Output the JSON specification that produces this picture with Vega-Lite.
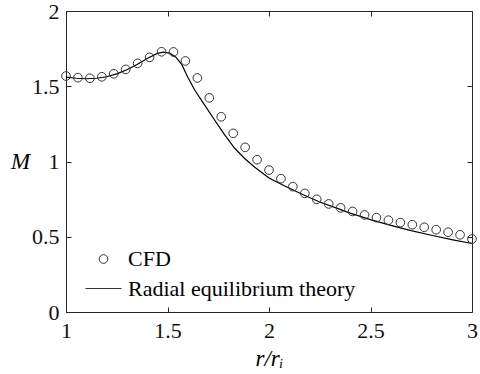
{
  "$schema": "https://vega.github.io/schema/vega-lite/v6.json",
  "width": 406,
  "height": 301,
  "autosize": {"type": "none"},
  "padding": {"left": 66, "top": 11, "right": 8, "bottom": 62},
  "title": {"text": "(b)", "anchor": "start", "frame": "group", "dx": -59, "offset": 8, "baseline": "alphabetic", "font": "Liberation Serif", "fontSize": 22, "fontWeight": "normal", "color": "#000"},
  "datasets": {
    "cfd": [
      {"x": 1.0, "M": 1.568, "series": "CFD"},
      {"x": 1.0588, "M": 1.557, "series": "CFD"},
      {"x": 1.1176, "M": 1.553, "series": "CFD"},
      {"x": 1.1765, "M": 1.563, "series": "CFD"},
      {"x": 1.2353, "M": 1.583, "series": "CFD"},
      {"x": 1.2941, "M": 1.612, "series": "CFD"},
      {"x": 1.3529, "M": 1.652, "series": "CFD"},
      {"x": 1.4118, "M": 1.692, "series": "CFD"},
      {"x": 1.4706, "M": 1.729, "series": "CFD"},
      {"x": 1.5294, "M": 1.728, "series": "CFD"},
      {"x": 1.5882, "M": 1.668, "series": "CFD"},
      {"x": 1.6471, "M": 1.555, "series": "CFD"},
      {"x": 1.7059, "M": 1.423, "series": "CFD"},
      {"x": 1.7647, "M": 1.297, "series": "CFD"},
      {"x": 1.8235, "M": 1.187, "series": "CFD"},
      {"x": 1.8824, "M": 1.094, "series": "CFD"},
      {"x": 1.9412, "M": 1.012, "series": "CFD"},
      {"x": 2.0, "M": 0.943, "series": "CFD"},
      {"x": 2.0588, "M": 0.886, "series": "CFD"},
      {"x": 2.1176, "M": 0.833, "series": "CFD"},
      {"x": 2.1765, "M": 0.788, "series": "CFD"},
      {"x": 2.2353, "M": 0.749, "series": "CFD"},
      {"x": 2.2941, "M": 0.718, "series": "CFD"},
      {"x": 2.3529, "M": 0.692, "series": "CFD"},
      {"x": 2.4118, "M": 0.668, "series": "CFD"},
      {"x": 2.4706, "M": 0.645, "series": "CFD"},
      {"x": 2.5294, "M": 0.627, "series": "CFD"},
      {"x": 2.5882, "M": 0.61, "series": "CFD"},
      {"x": 2.6471, "M": 0.594, "series": "CFD"},
      {"x": 2.7059, "M": 0.58, "series": "CFD"},
      {"x": 2.7647, "M": 0.563, "series": "CFD"},
      {"x": 2.8235, "M": 0.547, "series": "CFD"},
      {"x": 2.8824, "M": 0.53, "series": "CFD"},
      {"x": 2.9412, "M": 0.513, "series": "CFD"},
      {"x": 3.0, "M": 0.485, "series": "CFD"}
    ],
    "ret": [
      {"x": 1.0, "M": 1.56},
      {"x": 1.05, "M": 1.553},
      {"x": 1.1, "M": 1.55},
      {"x": 1.15, "M": 1.553},
      {"x": 1.2, "M": 1.563},
      {"x": 1.25, "M": 1.582},
      {"x": 1.3, "M": 1.61},
      {"x": 1.35, "M": 1.645},
      {"x": 1.4, "M": 1.685},
      {"x": 1.45, "M": 1.718},
      {"x": 1.48, "M": 1.727},
      {"x": 1.51, "M": 1.72},
      {"x": 1.54, "M": 1.695},
      {"x": 1.57, "M": 1.645},
      {"x": 1.6, "M": 1.56},
      {"x": 1.634, "M": 1.475},
      {"x": 1.683, "M": 1.375},
      {"x": 1.732, "M": 1.276},
      {"x": 1.78, "M": 1.18},
      {"x": 1.831, "M": 1.088},
      {"x": 1.88, "M": 1.02},
      {"x": 1.93, "M": 0.962},
      {"x": 2.0, "M": 0.89},
      {"x": 2.08, "M": 0.835},
      {"x": 2.166, "M": 0.781},
      {"x": 2.25, "M": 0.731},
      {"x": 2.33, "M": 0.692},
      {"x": 2.4, "M": 0.657},
      {"x": 2.5, "M": 0.614},
      {"x": 2.6, "M": 0.576},
      {"x": 2.7, "M": 0.541},
      {"x": 2.8, "M": 0.51},
      {"x": 2.9, "M": 0.481},
      {"x": 3.0, "M": 0.455}
    ]
  },
  "config": {
    "font": "Liberation Serif",
    "view": {"stroke": null},
    "axis": {
      "grid": false,
      "domainColor": "#262626",
      "tickColor": "#262626",
      "labelColor": "#111",
      "labelFont": "Liberation Serif",
      "labelFontSize": 22,
      "tickSize": -5,
      "domainWidth": 1,
      "tickWidth": 1
    }
  },
  "layer": [
    {
      "data": {"name": "ret"},
      "mark": {"type": "line", "color": "black", "strokeWidth": 1.2},
      "encoding": {
        "x": {"field": "x", "type": "quantitative", "scale": {"domain": [1, 3], "nice": false, "zero": false},
          "axis": {"orient": "bottom", "values": [1, 1.5, 2, 2.5, 3], "format": "~g", "labelPadding": 13, "labelFlush": false,
            "labelFont": "Liberation Serif", "labelFontSize": 22,
            "title": "r/rᵢ", "titleFont": "Liberation Serif", "titleFontSize": 23, "titleFontStyle": "italic", "titleFontWeight": "normal", "titleColor": "#000",
            "titleX": 203, "titleY": 53, "titleBaseline": "alphabetic", "titleAlign": "center"}},
        "y": {"field": "M", "type": "quantitative", "scale": {"domain": [0, 2], "nice": false},
          "axis": {"orient": "left", "values": [0, 0.5, 1, 1.5, 2], "format": "~g", "labelPadding": 12, "labelFlush": false,
            "labelFont": "Liberation Serif", "labelFontSize": 22,
            "title": "M", "titleFont": "Liberation Serif", "titleFontSize": 23, "titleFontStyle": "italic", "titleFontWeight": "normal", "titleColor": "#000",
            "titleAngle": 0, "titleX": -46, "titleY": 150, "titleBaseline": "middle", "titleAlign": "center"}}
      }
    },
    {
      "data": {"name": "cfd"},
      "mark": {"type": "point", "filled": false, "stroke": "#333", "strokeWidth": 1, "opacity": 1},
      "encoding": {
        "x": {"field": "x", "type": "quantitative", "scale": {"domain": [1, 3], "nice": false, "zero": false},
          "axis": {"orient": "top", "values": [1, 1.5, 2, 2.5, 3], "labels": false, "title": null}},
        "y": {"field": "M", "type": "quantitative", "scale": {"domain": [0, 2], "nice": false},
          "axis": {"orient": "right", "values": [0, 0.5, 1, 1.5, 2], "labels": false, "title": null}},
        "size": {"field": "series", "type": "nominal",
          "scale": {"domain": ["CFD", "Radial equilibrium theory"], "range": [75, 1296]}},
        "shape": {"field": "series", "type": "nominal",
          "scale": {"domain": ["CFD", "Radial equilibrium theory"], "range": ["circle", "stroke"]},
          "legend": {"orient": "none", "legendX": 19, "legendY": 237, "title": null, "padding": 0,
            "symbolStrokeColor": "black", "symbolStrokeWidth": 1, "symbolFillColor": "transparent",
            "labelFont": "Liberation Serif", "labelFontSize": 22, "labelColor": "#000", "labelOffset": 6, "labelLimit": 400, "rowPadding": -20}}
      }
    }
  ],
  "resolve": {"axis": {"x": "independent", "y": "independent"}}
}
